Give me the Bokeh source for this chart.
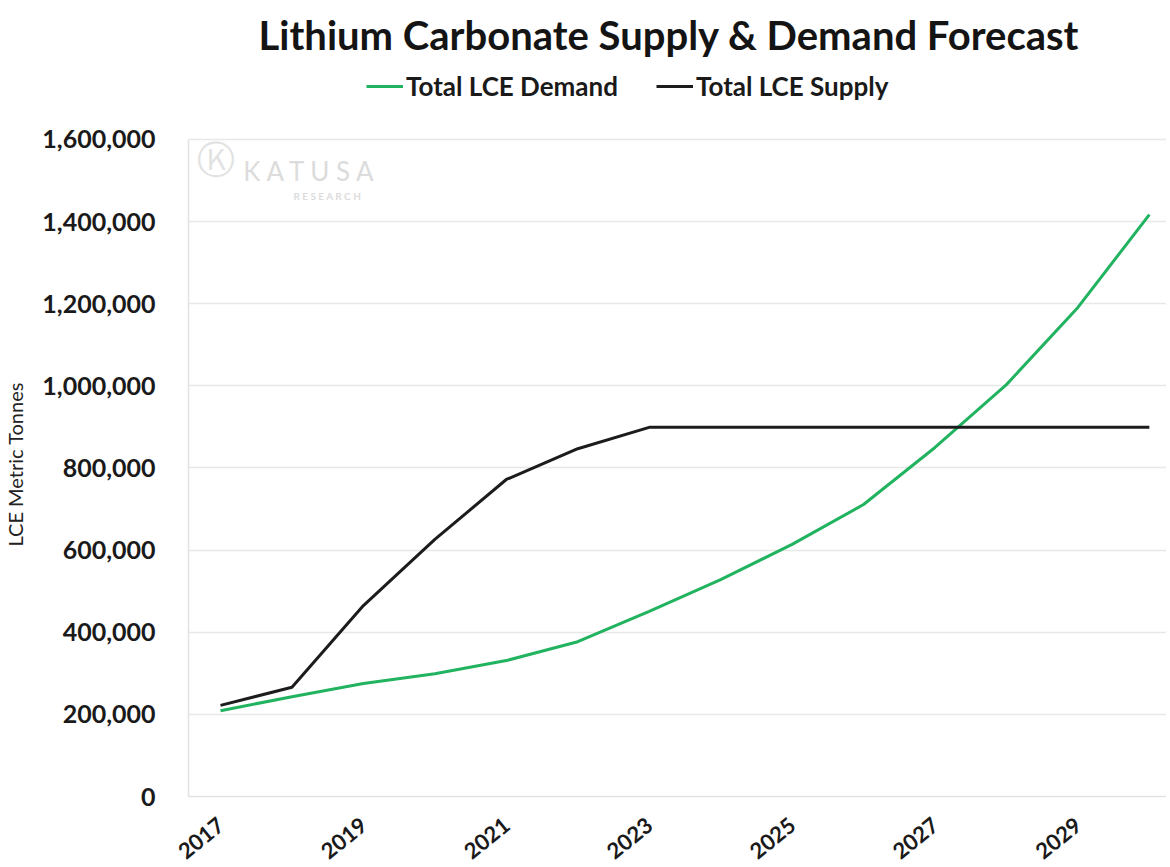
from bokeh.plotting import figure
from bokeh.models import (Legend, LegendItem, FixedTicker, NumeralTickFormatter,
                          Range1d, Label)
from bokeh.core.properties import value
from bokeh.embed import file_html
from bokeh.resources import INLINE

# ---- data ----
years = [2017, 2018, 2019, 2020, 2021, 2022, 2023, 2024, 2025, 2026, 2027, 2028, 2029, 2030]
demand = [209000, 243000, 275000, 299000, 331000, 377000, 451000, 528000, 614000, 711000,
          850000, 1003000, 1191000, 1417000]
supply = [222000, 266000, 465000, 626000, 772000, 847000, 899000, 899000, 899000, 899000,
          899000, 899000, 899000, 899000]
x_tick_years = [2017, 2019, 2021, 2023, 2025, 2027, 2029]
y_tick_values = [0, 200000, 400000, 600000, 800000, 1000000, 1200000, 1400000, 1600000]
title_text = "Lithium Carbonate Supply & Demand Forecast"
y_label = "LCE Metric Tonnes"
demand_label = "Total LCE Demand"
supply_label = "Total LCE Supply"

FONT = "Lato"
GREEN = "#21b35f"
BLACK = "#1c1c1c"

# frame extends above the top gridline so the legend can sit inside it
p = figure(width=1166, height=887, output_backend="svg", toolbar_location=None,
           x_range=Range1d(2016.552, 2030.24), y_range=Range1d(0, 1780200),
           min_border_left=183, min_border_right=0, min_border_top=65,
           min_border_bottom=91)
p.outline_line_color = None
p.background_fill_color = "white"
p.border_fill_color = "white"

# title
p.title.text = title_text
p.title.align = "left"
p.title.text_font = FONT
p.title.text_font_size = "40px"
p.title.text_font_style = "bold"
p.title.text_color = "#141414"
p.title.offset = 70
p.title.standoff = 14

# lines
r_d = p.line(years, demand, line_color=GREEN, line_width=3)
r_s = p.line(years, supply, line_color=BLACK, line_width=3)

legend = Legend(items=[LegendItem(label=demand_label, renderers=[r_d]),
                       LegendItem(label=supply_label, renderers=[r_s])],
                orientation="horizontal", location=(178, 694))
legend.label_text_font = FONT
legend.label_text_font_size = "26px"
legend.label_text_font_style = "bold"
legend.label_text_color = "#1a1a1a"
legend.glyph_width = 37
legend.glyph_height = 20
legend.label_standoff = 3
legend.spacing = 38
legend.border_line_color = None
legend.background_fill_alpha = 0
legend.margin = 0
legend.padding = 0
p.add_layout(legend, "center")

# axes
p.xaxis.ticker = FixedTicker(ticks=x_tick_years)
p.yaxis.ticker = FixedTicker(ticks=y_tick_values)
p.yaxis.formatter = NumeralTickFormatter(format="0,0")
p.yaxis.bounds = (y_tick_values[0], y_tick_values[-1])
for ax in (p.xaxis[0], p.yaxis[0]):
    ax.major_tick_line_color = None
    ax.minor_tick_line_color = None
    ax.axis_line_color = "#e2e2e2"
    ax.axis_line_width = 1.5
    ax.major_label_text_font = FONT
    ax.major_label_text_font_style = "bold"
    ax.major_label_text_color = "#1a1a1a"
p.yaxis.major_label_text_font_size = "25px"
p.yaxis.major_label_standoff = 27
p.xaxis.major_label_text_font_size = "22px"
p.xaxis.major_label_orientation = 0.68
p.xaxis.major_label_standoff = 19

# trailing no-break spaces shift the centred label down to the gridded part of the frame
p.yaxis.axis_label = y_label + "\u00a0" * 13
p.yaxis.axis_label_text_font = FONT
p.yaxis.axis_label_text_font_size = "20px"
p.yaxis.axis_label_text_font_style = "normal"
p.yaxis.axis_label_text_color = "#222222"
p.yaxis.axis_label_standoff = 12

p.xgrid.grid_line_color = None
p.ygrid.grid_line_color = "#e8e8e8"
p.ygrid.grid_line_width = 1.5

# watermark
p.add_layout(Label(x=2016.67, y=1497000, text="\u24c0", text_font="DejaVu Sans",
                   text_font_size="38px", text_color="#e2e2e2"))
p.add_layout(Label(x=2017.32, y=1485000, text="K A T U S A", text_font=FONT,
                   text_font_size="26px", text_color="#dcdcdc"))
p.add_layout(Label(x=2018.02, y=1447000, text="R E S E A R C H", text_font=FONT,
                   text_font_size="10px", text_color="#dcdcdc", text_font_style="bold"))

open("out.html", "w").write(file_html(p, INLINE))
